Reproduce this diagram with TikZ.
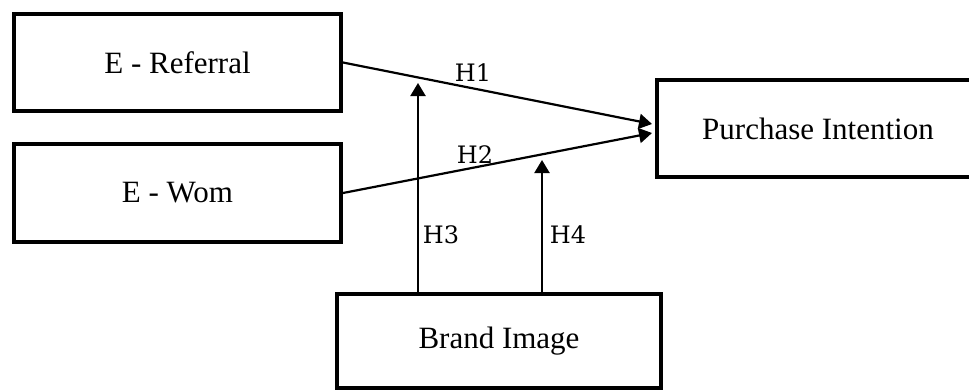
\documentclass[tikz,border=0pt]{standalone}
\usepackage{fontspec}
\setmainfont{Liberation Serif}
\newfontfamily\labfont{DejaVu Serif}
\usetikzlibrary{arrows.meta,calc}
\begin{document}
\begin{tikzpicture}[x=1pt,y=-1pt,
  box/.style={draw=black,line width=4pt,fill=white,inner sep=0pt,
    font=\fontsize{31}{37}\selectfont},
  conn/.style={line width=2.2pt,-{Triangle[length=13pt,width=15pt]}},
  hlab/.style={font=\labfont\fontsize{24}{28}\selectfont,inner sep=0pt}]
\useasboundingbox (0,0) rectangle (969,389);
\fill[white] (0,0) rectangle (969,389);
\node[box,minimum width=327pt,minimum height=97pt] (ref) at (177.5,62.5) {E - Referral};
\node[box,minimum width=327pt,minimum height=98pt] (wom) at (177.5,193) {E - Wom};
\node[box,minimum width=322pt,minimum height=97pt] (pi) at (818,128.5) {Purchase Intention};
\node[box,minimum width=324pt,minimum height=94pt] (bi) at (499,341) {Brand Image};
\coordinate (e1) at ($(pi.west)+(-3,-4.5)$);
\coordinate (e2) at ($(pi.west)+(-3,4.5)$);
\coordinate (t3) at (418,83);
\coordinate (t4) at (542,160);
\draw[conn] (ref.east) -- (e1);
\draw[conn] (wom.east) -- (e2);
\draw[conn] (t3 |- bi.north) -- (t3);
\draw[conn] (t4 |- bi.north) -- (t4);
\node[hlab] (h1) at (473,73) {H1};
\node[hlab] (h2) at (475,155) {H2};
\node[hlab] (h3) at (441,235) {H3};
\node[hlab] (h4) at (568,235) {H4};
\end{tikzpicture}
\end{document}
